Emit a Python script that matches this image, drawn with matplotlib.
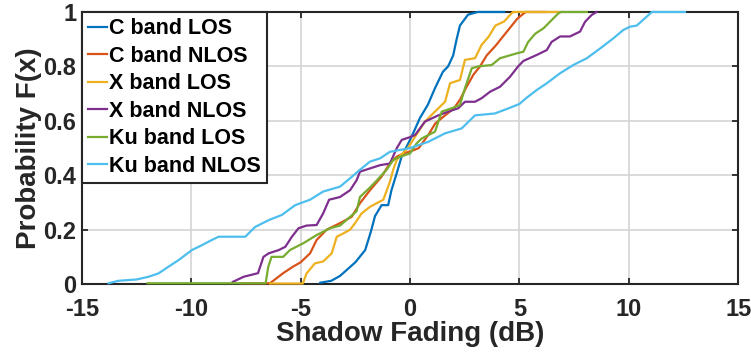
import matplotlib
matplotlib.use("Agg")
import matplotlib.pyplot as plt

plt.rcParams['font.family'] = ['Liberation Sans', 'DejaVu Sans']
plt.rcParams['font.weight'] = 'bold'
plt.rcParams['axes.unicode_minus'] = False

# empirical CDF knots: shadow fading (dB) vs cumulative probability
c_los_x = [-4.1, -3.6, -3.2, -2.5, -2.05, -1.8, -1.6, -1.45, -1.3, -1.0, -0.85, -0.6, -0.38,
           0.0, 0.23, 0.45, 0.82, 1.14, 1.5, 1.74, 1.97, 2.13, 2.28, 2.65, 3.1, 4.3]
c_los_p = [0.005, 0.012, 0.03, 0.08, 0.125, 0.19, 0.25, 0.27, 0.29, 0.29, 0.345, 0.41, 0.47,
           0.53, 0.57, 0.61, 0.66, 0.72, 0.78, 0.8, 0.84, 0.9, 0.95, 0.99, 1.0, 1.0]

c_nlos_x = [-7.7, -6.4, -5.8, -5.35, -5.0, -4.57, -4.27, -3.81, -3.2, -2.67, -2.29, -1.83, -1.3,
            -0.92, -0.61, -0.3, 0.1, 0.4, 0.85, 1.15, 1.6, 2.0, 2.3, 2.55, 2.9, 3.2, 3.5, 3.9,
            4.3, 4.6, 4.9, 5.2, 5.3, 6.2]
c_nlos_p = [0.003, 0.003, 0.04, 0.064, 0.08, 0.113, 0.162, 0.2, 0.224, 0.247, 0.297, 0.345, 0.395,
            0.444, 0.468, 0.48, 0.49, 0.5, 0.55, 0.59, 0.62, 0.645, 0.68, 0.72, 0.77, 0.8, 0.84, 0.875,
            0.915, 0.945, 0.975, 0.995, 1.0, 1.0]

x_los_x = [-6.4, -4.9, -4.73, -4.35, -3.97, -3.58, -3.35, -3.05, -2.74, -2.52, -2.21, -1.83, -1.53,
           -1.22, -0.92, -0.77, -0.61, -0.46, -0.1, 0.3, 0.68, 1.14, 1.6, 1.83, 2.28, 2.51, 2.97,
           3.27, 3.6, 3.9, 4.3, 4.57, 4.7, 6.86]
x_los_p = [0.002, 0.002, 0.039, 0.076, 0.083, 0.113, 0.174, 0.186, 0.2, 0.223, 0.26, 0.284, 0.297,
           0.31, 0.376, 0.42, 0.456, 0.47, 0.5, 0.55, 0.597, 0.634, 0.67, 0.738, 0.75, 0.824, 0.83,
           0.879, 0.91, 0.95, 0.965, 0.989, 1.0, 1.0]

x_nlos_x = [-8.1, -7.6, -6.95, -6.7, -6.46, -6.0, -5.7, -5.4, -5.1, -4.73, -4.27, -3.97, -3.7,
            -3.2, -2.74, -2.44, -2.29, -1.83, -1.37, -0.92, -0.61, -0.38, 0.0, 0.23, 0.68, 1.29,
            1.75, 2.2, 2.51, 2.97, 3.27, 3.66, 4.11, 4.57, 4.94, 5.18, 5.79, 6.25, 6.47, 6.86,
            7.31, 7.77, 8.0, 8.3, 8.53]
x_nlos_p = [0.008, 0.027, 0.04, 0.1, 0.113, 0.125, 0.137, 0.174, 0.205, 0.215, 0.217, 0.26, 0.31,
            0.32, 0.345, 0.382, 0.413, 0.425, 0.437, 0.443, 0.499, 0.53, 0.54, 0.548, 0.597, 0.62,
            0.634, 0.646, 0.67, 0.67, 0.683, 0.707, 0.725, 0.762, 0.8, 0.82, 0.842, 0.86, 0.89, 0.91,
            0.91, 0.928, 0.964, 0.989, 1.0]

ku_los_x = [-12.0, -6.6, -6.48, -6.33, -5.8, -5.49, -4.88, -4.27, -3.66, -3.2, -2.74, -2.44, -2.29,
            -1.83, -1.53, -1.07, -0.77, -0.46, 0.0, 0.3, 0.53, 1.14, 1.45, 1.9, 2.28, 2.51, 2.82,
            3.12, 3.73, 4.11, 4.88, 5.18, 5.4, 5.72, 6.1, 6.47, 6.78, 6.9, 8.08]
ku_los_p = [0.003, 0.003, 0.064, 0.1, 0.1, 0.125, 0.15, 0.18, 0.205, 0.215, 0.247, 0.268, 0.32,
            0.355, 0.38, 0.42, 0.456, 0.468, 0.48, 0.517, 0.535, 0.56, 0.634, 0.646, 0.658, 0.72, 0.793,
            0.8, 0.805, 0.83, 0.848, 0.854, 0.89, 0.92, 0.94, 0.97, 0.995, 1.0, 1.0]

ku_nlos_x = [-13.78, -13.32, -12.49, -11.95, -11.5, -11.04, -10.58, -9.97, -9.51, -9.06, -8.75, -7.53,
             -7.08, -6.46, -5.86, -5.25, -4.57, -3.97, -3.2, -2.74, -2.29, -1.83, -1.37, -0.92, -0.46,
             0.0, 0.84, 1.6, 2.36, 2.97, 3.88, 4.57, 5.0, 5.3, 5.79, 6.25, 6.86, 7.46, 8.08, 8.69,
             9.29, 9.75, 10.06, 10.36, 10.82, 11.05, 12.57]
ku_nlos_p = [0.003, 0.012, 0.017, 0.027, 0.039, 0.064, 0.088, 0.125, 0.143, 0.162, 0.174, 0.174,
             0.21, 0.235, 0.254, 0.29, 0.31, 0.34, 0.358, 0.389, 0.42, 0.45, 0.462, 0.486, 0.493,
             0.5, 0.523, 0.554, 0.572, 0.62, 0.627, 0.648, 0.662, 0.683, 0.713, 0.738, 0.775, 0.805,
             0.83, 0.866, 0.903, 0.934, 0.946, 0.95, 0.983, 1.0, 1.0]

labels = ["C band LOS", "C band NLOS", "X band LOS", "X band NLOS", "Ku band LOS", "Ku band NLOS"]
colors = ["#0072BD", "#D95319", "#EDB120", "#7E2F8E", "#77AC30", "#4DBEEE"]
xticks = [-15, -10, -5, 0, 5, 10, 15]
yticks = [0, 0.2, 0.4, 0.6, 0.8, 1]
ytick_labels = ["0", "0.2", "0.4", "0.6", "0.8", "1"]

series = [(c_los_x, c_los_p), (c_nlos_x, c_nlos_p), (x_los_x, x_los_p),
          (x_nlos_x, x_nlos_p), (ku_los_x, ku_los_p), (ku_nlos_x, ku_nlos_p)]

fig = plt.figure(figsize=(7.51, 3.52), dpi=100)
ax = fig.add_axes([0.109, 0.193, 0.874, 0.773])

for (xs, ps), lab, col in zip(series, labels, colors):
    # unclipped so the flat part at F=1 sits on the top border
    ax.plot(xs, ps, color=col, lw=1.6, label=lab, zorder=3, clip_on=False)

ax.set_xlim(-15, 15)
ax.set_ylim(0, 1)
ax.set_xticks(xticks)
ax.set_yticks(yticks)
ax.set_yticklabels(ytick_labels)
ax.grid(True, color="#d4d4d4", lw=1.2)
ax.set_axisbelow(True)
ax.tick_params(direction="in", length=4, width=1.3, top=True, right=True,
               labelsize=17, colors="#262626")
ax.tick_params(axis="x", pad=10)
ax.tick_params(axis="y", pad=4)
for lab in ax.get_xticklabels() + ax.get_yticklabels():
    lab.set_fontweight("bold")
for sp in ax.spines.values():
    sp.set_linewidth(1.5)
    sp.set_color("#262626")

ax.set_xlabel("Shadow Fading (dB)", fontsize=20, fontweight="bold", color="#262626", labelpad=0)
ax.set_ylabel("Probability F(x)", fontsize=20, fontweight="bold", color="#262626", labelpad=1)

leg = ax.legend(loc="upper left", bbox_to_anchor=(0, 1), borderaxespad=0, fontsize=15.5,
                handlelength=0.85, handletextpad=0.1, labelspacing=0.3, borderpad=0.3,
                fancybox=False, framealpha=1, edgecolor="#262626")
leg.get_frame().set_linewidth(1.5)
leg.set_zorder(5)
for t in leg.get_texts():
    t.set_fontweight("bold")

fig.savefig("out.png", dpi=100)
